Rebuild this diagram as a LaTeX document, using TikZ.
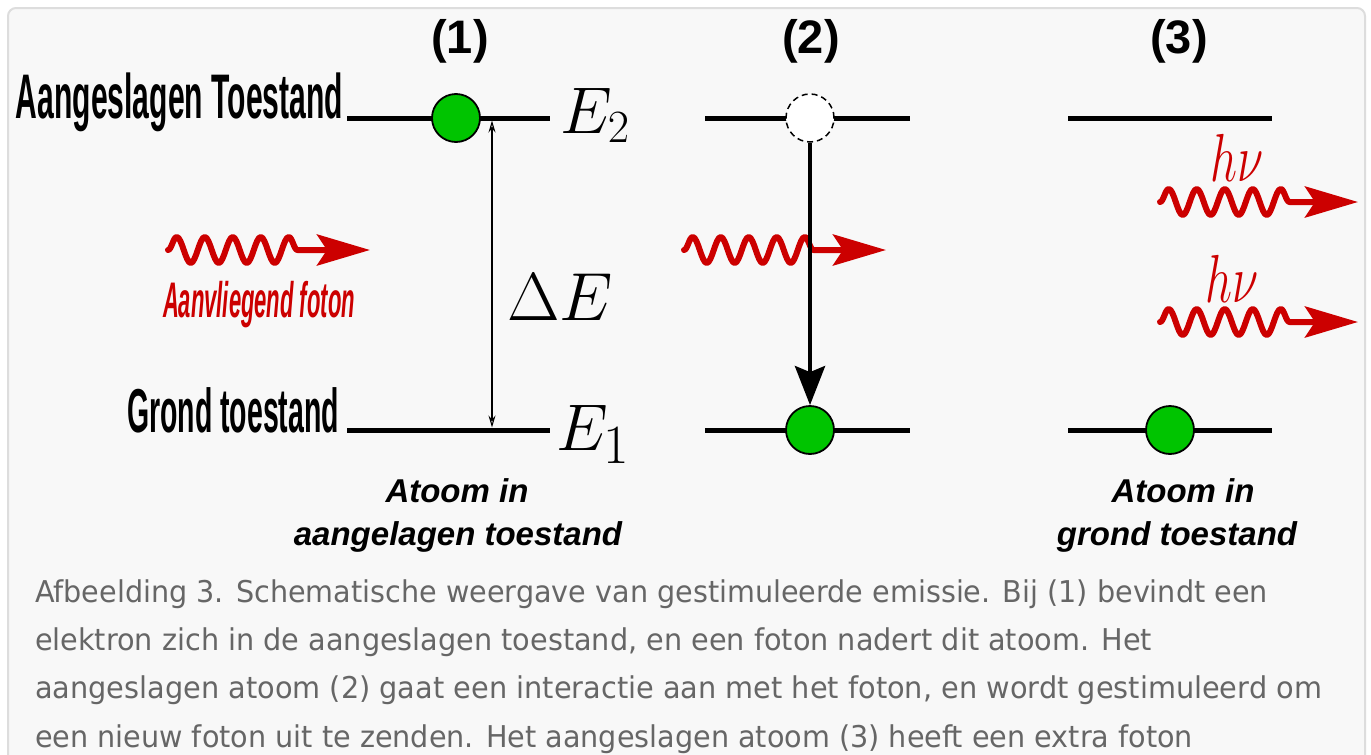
\RequirePackage{fix-cm}
\documentclass[tikz,border=0pt]{standalone}
\usepackage{fontspec}
\usepackage{graphicx}
\newfontfamily\arialfont{Liberation Sans}
\newfontfamily\capfont{DejaVu Sans}
\usetikzlibrary{arrows.meta,decorations.pathmorphing}
\definecolor{photonred}{RGB}{204,0,0}
\definecolor{elgreen}{RGB}{0,196,0}
\definecolor{capgray}{RGB}{102,102,102}
\definecolor{framebg}{RGB}{248,248,248}
\definecolor{frameline}{RGB}{221,221,221}
\newcommand\fitto[2]{\resizebox{#1}{\height}{#2}}
\begin{document}
\begin{tikzpicture}[x=1pt,y=-1pt,
  level/.style={line width=5pt},
  electron/.style={circle,draw=black,line width=1.8pt,fill=elgreen,minimum size=48pt,inner sep=0pt},
  hole/.style={circle,draw=black,line width=1.5pt,dash pattern=on 6pt off 4pt,fill=white,minimum size=48pt,inner sep=0pt},
  photon/.style={draw=photonred,line width=6pt,line cap=round,line join=round,
     decorate,decoration={snake,segment length=28pt,amplitude=13pt,post length=60pt},
     -{Stealth[length=53pt,width=31pt,inset=10pt,fill=photonred]}},
  txt/.style={inner sep=0pt,outer sep=0pt},
  boldlab/.style={txt,font=\arialfont\bfseries},
  mathlab/.style={txt},
  stateitalic/.style={txt,font=\arialfont\bfseries\itshape\fontsize{33}{33}\selectfont},
  caption/.style={txt,anchor=base west,text=capgray,font=\capfont\fontsize{30}{30}\selectfont},
]
\useasboundingbox (0,0) rectangle (1371,755);
\clip (0,0) rectangle (1371,755);
\fill[white] (0,0) rectangle (1371,755);
\draw[fill=framebg,draw=frameline,line width=2pt,rounded corners=8pt] (8,8) rectangle (1365,820);

% headers
\node[boldlab,anchor=base,font=\arialfont\bfseries\fontsize{47}{47}\selectfont] (h1) at (460,53) {(1)};
\node[boldlab,anchor=base,font=\arialfont\bfseries\fontsize{47}{47}\selectfont] (h2) at (811,53) {(2)};
\node[boldlab,anchor=base,font=\arialfont\bfseries\fontsize{47}{47}\selectfont] (h3) at (1179,53) {(3)};

% state names
\node[boldlab,anchor=base west] (exc) at (16,118) {\fitto{327pt}{\fontsize{63}{63}\selectfont Aangeslagen Toestand}};
\node[boldlab,anchor=base west] (gnd) at (127,432) {\fitto{212pt}{\fontsize{62}{62}\selectfont Grond toestand}};
\node[txt,anchor=base west,text=photonred,font=\arialfont\bfseries\itshape] (inc) at (163,317) {\fitto{192pt}{\fontsize{50}{50}\selectfont Aanvliegend foton}};

% photons (drawn below the black arrow)
\coordinate (w1s) at (168,250); \coordinate (w1e) at (370,250);
\coordinate (w2s) at (684,250); \coordinate (w2e) at (886,250);
\coordinate (w3s) at (1160,202); \coordinate (w3e) at (1358,202);
\coordinate (w4s) at (1160,322); \coordinate (w4e) at (1358,322);
\draw[photon] (w1s) -- (w1e);
\draw[photon] (w2s) -- (w2e);
\draw[photon] (w3s) -- (w3e);
\draw[photon] (w4s) -- (w4e);
\node[txt,anchor=base,text=photonred] (hv1) at (1237,181) {\fitto{53pt}{\fontsize{68}{68}\selectfont$h\nu$}};
\node[txt,anchor=base,text=photonred] (hv2) at (1232,302) {\fitto{53pt}{\fontsize{68}{68}\selectfont$h\nu$}};

% energy levels
\coordinate (u1l) at (347,118); \coordinate (u1r) at (550,118);
\coordinate (l1l) at (347,430); \coordinate (l1r) at (550,430);
\coordinate (u2l) at (705,118); \coordinate (u2r) at (910,118);
\coordinate (l2l) at (705,430); \coordinate (l2r) at (910,430);
\coordinate (u3l) at (1068,118); \coordinate (u3r) at (1272,118);
\coordinate (l3l) at (1068,430); \coordinate (l3r) at (1272,430);
\draw[level] (u1l) -- (u1r);
\draw[level] (l1l) -- (l1r);
\draw[level] (u2l) -- (u2r);
\draw[level] (l2l) -- (l2r);
\draw[level] (u3l) -- (u3r);
\draw[level] (l3l) -- (l3r);

% Delta E arrow
\coordinate (dt) at (492,120.5); \coordinate (db) at (492,427.5);
\draw[line width=1.1pt,{Stealth[open,length=12pt,width=7pt,inset=4pt]}-{Stealth[open,length=12pt,width=7pt,inset=4pt]}] (dt) -- (db);

% electrons
\node[electron] (c1u) at (456,118) {};
\node[hole] (c2u) at (810,118) {};
\node[electron] (c2l) at (810,430) {};
\node[electron] (c3l) at (1170,430) {};
\draw[line width=4.5pt,-{Stealth[length=39pt,width=30pt,inset=6pt]}] (c2u.south) -- (c2l.north);

% math labels
\node[mathlab,anchor=base west] (e2) at (560,133) {\fontsize{66}{66}\selectfont$E_2$};
\node[mathlab,anchor=base west] (e1) at (556,450) {\fontsize{66}{66}\selectfont$E_{\scalebox{1.2}{$\scriptstyle 1$}}$};
\node[mathlab,anchor=base west] (de) at (507,320) {\fontsize{68}{68}\selectfont$\Delta E$};

% state descriptions
\node[stateitalic,anchor=base] (d1a) at (457,502) {Atoom in};
\node[stateitalic,anchor=base] (d1b) at (458,545) {aangelagen toestand};
\node[stateitalic,anchor=base] (d3a) at (1183,502) {Atoom in};
\node[stateitalic,anchor=base] (d3b) at (1177,545) {grond toestand};

% caption
\node[caption] (cap1) at (35,602) {\fitto{1233pt}{Afbeelding 3. Schematische weergave van gestimuleerde emissie. Bij (1) bevindt een}};
\node[caption] (cap2) at (35,650) {\fitto{1117pt}{elektron zich in de aangeslagen toestand, en een foton nadert dit atoom. Het}};
\node[caption] (cap3) at (35,698) {\fitto{1287pt}{aangeslagen atoom (2) gaat een interactie aan met het foton, en wordt gestimuleerd om}};
\node[caption] (cap4) at (35,747) {\fitto{1158pt}{een nieuw foton uit te zenden. Het aangeslagen atoom (3) heeft een extra foton}};
\end{tikzpicture}
\end{document}
